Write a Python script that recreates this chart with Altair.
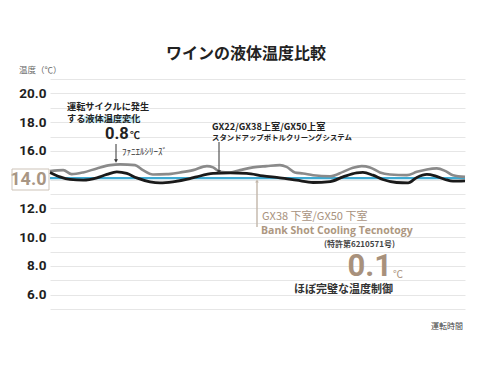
import altair as alt
import pandas as pd

# ---- data ----
gray_t = [0, 3.2, 5.2, 8.0, 11.3, 14.5, 16.9, 20.5, 22.4, 24.8, 28.1, 31.3, 34.5, 37.8, 39.3, 41.0,
          43.4, 45.8, 48.9, 52.2, 55.4, 57.0, 59.0, 61.0, 63.4, 67.5, 70.6, 73.0, 75.1, 77.1, 79.5,
          81.9, 86.0, 88.4, 90.8, 93.2, 95.2, 97.1, 100]
gray_v = [14.59, 14.66, 14.38, 14.50, 14.78, 15.01, 15.06, 15.01, 14.66, 14.36, 14.38, 14.50, 14.66,
          14.94, 14.85, 14.54, 14.50, 14.66, 14.85, 14.94, 15.01, 14.89, 14.50, 14.43, 14.31, 14.24,
          14.54, 14.82, 14.94, 14.85, 14.50, 14.36, 14.31, 14.54, 14.71, 14.78, 14.61, 14.31, 14.19]

black_t = [0, 2.4, 4.8, 8.0, 11.3, 13.7, 16.1, 18.5, 20.9, 24.1, 26.5, 29.6, 33.7, 35.3, 39.3, 43.4,
           47.4, 51.3, 55.4, 59.4, 63.4, 67.5, 70.6, 73.9, 75.4, 77.8, 80.2, 83.5, 86.3, 88.4, 90.8,
           92.8, 95.2, 97.1, 100]
black_v = [14.50, 14.19, 14.01, 13.96, 14.12, 14.36, 14.54, 14.43, 14.12, 13.85, 13.78, 13.85, 14.07,
           14.19, 14.43, 14.47, 14.43, 14.26, 14.12, 13.96, 13.80, 13.86, 14.19, 14.47, 14.50, 14.31,
           14.01, 13.80, 13.78, 14.15, 14.36, 14.26, 14.01, 13.89, 13.91]

blue_t = [0, 100]
blue_v = [14.1, 14.1]

y_ticks = list(range(5, 22))

gray_df = pd.DataFrame({"t": gray_t, "v": gray_v})
black_df = pd.DataFrame({"t": black_t, "v": black_v})
blue_df = pd.DataFrame({"t": blue_t, "v": blue_v})

CJK = "Noto Sans CJK JP"
NUM = "Roboto"

xs = alt.Scale(domain=[0, 100], nice=False, zero=False)
ys = alt.Scale(domain=[5, 21], nice=False, zero=False)

yaxis = alt.Axis(
    values=y_ticks,
    labelExpr="datum.value % 2 == 0 ? format(datum.value, '.1f') : ''",
    title=None,
    domain=False,
    ticks=False,
    labelPadding=4,
    labelFont=NUM,
    labelFontWeight="bold",
    labelFontSize={"condition": {"test": "datum.value == 14", "value": 18}, "value": 13.5},
    labelColor={"condition": {"test": "datum.value == 14", "value": "#a89684"}, "value": "#1e1e1e"},
    grid=True,
    gridColor="#e6e6e6",
    gridWidth=1,
)

def line(df, color, width):
    return alt.Chart(df).mark_line(color=color, strokeWidth=width, interpolate="monotone").encode(
        x=alt.X("t:Q", scale=xs, axis=None),
        y=alt.Y("v:Q", scale=ys, axis=yaxis),
    )

one = alt.Data(values=[{}])

def txt(text, x, y, size, color="#222", weight="normal", align="left", font=CJK):
    return alt.Chart(one).mark_text(
        text=text, fontSize=size, color=color, fontWeight=weight, align=align,
        baseline="middle", font=font
    ).encode(x=alt.value(x), y=alt.value(y))

def vrule(x, y1, y2, color, width=1):
    return alt.Chart(one).mark_rule(color=color, strokeWidth=width).encode(
        x=alt.value(x), y=alt.value(y1), y2=alt.value(y2))

def tri(x, y, shape, color, size=18):
    return alt.Chart(one).mark_point(shape=shape, filled=True, color=color, size=size, opacity=1).encode(
        x=alt.value(x), y=alt.value(y))

box = alt.Chart(one).mark_rect(fillOpacity=0, stroke="#cdc3b8", strokeWidth=1).encode(
    x=alt.value(-38), x2=alt.value(-1), y=alt.value(90), y2=alt.value(111))

highlight = alt.Chart(one).mark_rect(color="#c9ecf7").encode(
    x=alt.value(34), x2=alt.value(90), y=alt.value(37), y2=alt.value(44))

layers = [
    line(blue_df, "#3faad2", 2.2),
    line(gray_df, "#8a8a8a", 2.6),
    line(black_df, "#1a1a1a", 2.8),
    box,
    highlight,
    txt("ワインの液体温度比較", 196, -25, 16, "#222", "bold", "center"),
    txt("温度（℃）", -31, -9, 8.5, "#666"),
    txt("運転サイクルに発生", 17, 28, 9.2, "#222", "bold"),
    txt("する液体温度変化", 17, 40, 9.2, "#222", "bold"),
    txt("0.8", 55, 55, 16.5, "#222", "bold", font=NUM),
    txt("℃", 80, 57, 10, "#222", "bold"),
    vrule(66, 65, 81, "#333"),
    tri(66, 82, "triangle-down", "#333", 16),
    txt("ﾌｧﾆｴﾙｼﾘｰｽﾞ", 72, 73, 9, "#333"),
    txt("GX22/GX38上室/GX50上室", 162, 48, 9.2, "#222", "bold"),
    txt("スタンドアップボトルクリーングシステム", 162, 58.5, 7.4, "#222", "bold"),
    vrule(169, 63, 92, "#333"),
    tri(169, 93, "triangle-down", "#333", 16),
    vrule(207, 102, 148, "#c2b6a9", 1.4),
    tri(207, 102, "triangle-up", "#c2b6a9", 14),
    txt("GX38 下室/GX50 下室", 212, 138, 11, "#a8927d", "normal"),
    txt("Bank Shot Cooling Tecnotogy", 211, 152, 10.5, "#ad9781", "bold", font="Open Sans"),
    txt("(特許第6210571号)", 345, 166, 8, "#444", "bold", "right"),
    txt("0.1", 342, 187.5, 31, "#a8917c", "bold", "right", font=NUM),
    txt("℃", 343, 196, 10, "#a8917c"),
    txt("ほぼ完璧な温度制御", 343, 210.5, 11, "#333", "bold", "right"),
    txt("運転時間", 413, 248, 8, "#444", "normal", "right"),
]

chart = alt.layer(*layers).properties(
    width=415,
    height=230,
    autosize=alt.AutoSizeParams(type="none"),
    padding={"left": 42, "top": 71, "right": 17, "bottom": 51},
    background="white",
).configure_view(stroke=None)

chart.save("out.html", embed_options={"renderer": "svg", "actions": False})
